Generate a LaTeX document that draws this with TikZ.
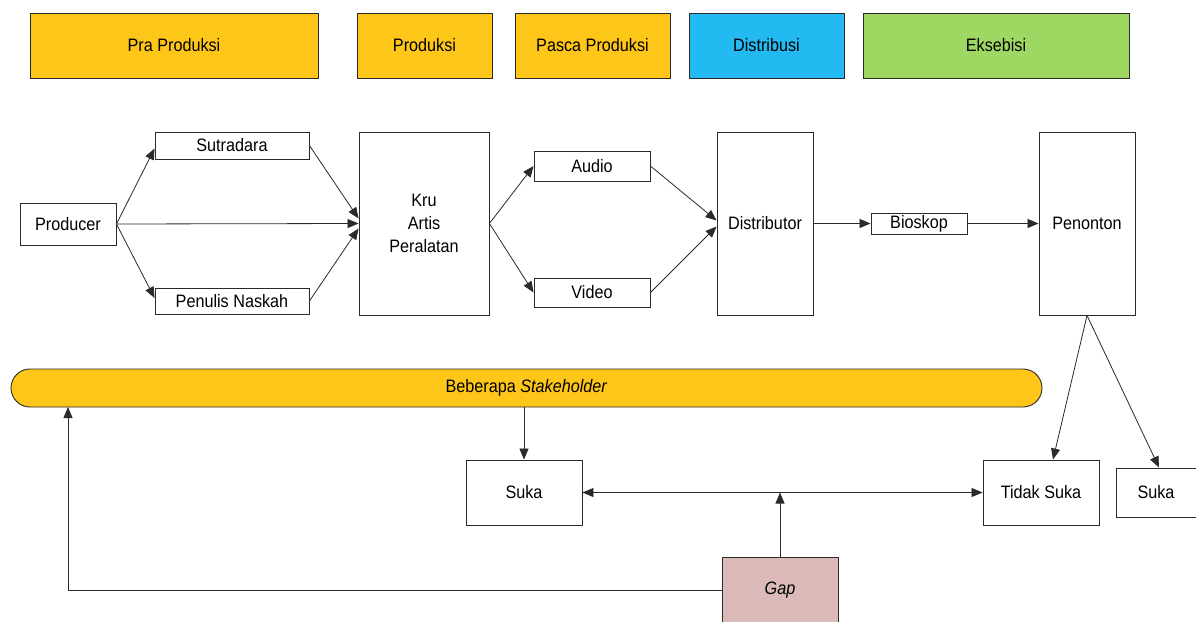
\documentclass[tikz,border=0pt]{standalone}
\usepackage{fontspec}
\setmainfont{Liberation Sans}[FakeStretch=0.9]
\usetikzlibrary{arrows.meta}
\definecolor{ylw}{HTML}{FFC61A}
\definecolor{blu}{HTML}{22BAF0}
\definecolor{grn}{HTML}{9ED762}
\definecolor{gapc}{HTML}{DDBABA}
\definecolor{ln}{HTML}{2A2A2A}
\tikzset{
  box/.style={draw=ln, line width=0.9pt, rectangle, inner sep=0pt, align=center,
    font=\fontsize{18}{23}\selectfont, text=black},
  phase/.style={box, minimum height=65pt},
  conn/.style={draw=ln, line width=0.8pt, -{Triangle[length=11pt,width=9pt]}},
  dconn/.style={draw=ln, line width=0.8pt, {Triangle[length=11pt,width=9pt]}-{Triangle[length=11pt,width=9pt]}},
  plain/.style={draw=ln, line width=0.8pt}
}
\begin{document}
\begin{tikzpicture}[x=1pt,y=-1pt]
\useasboundingbox[fill=white] (0,0) rectangle (1196,621);
% phases
\node[phase, fill=ylw, minimum width=288pt] (pra) at (174,45.5) {Pra Produksi};
\node[phase, fill=ylw, minimum width=135pt] (prod) at (424.5,45.5) {Produksi};
\node[phase, fill=ylw, minimum width=155pt] (pasca) at (592.5,45.5) {Pasca Produksi};
\node[phase, fill=blu, minimum width=155pt] (distr) at (766.5,45.5) {Distribusi};
\node[phase, fill=grn, minimum width=266pt] (eks) at (996,45.5) {Eksebisi};
% main flow
\node[box, fill=white, minimum width=96pt, minimum height=42pt] (producer) at (68,224) {Producer};
\node[box, fill=white, minimum width=154pt, minimum height=27pt] (sutradara) at (232,145.5) {Sutradara};
\node[box, fill=white, minimum width=154pt, minimum height=26pt] (penulis) at (232,301) {Penulis Naskah};
\node[box, fill=white, minimum width=130pt, minimum height=183pt] (kru) at (424,223.5) {Kru\\Artis\\Peralatan};
\node[box, fill=white, minimum width=116pt, minimum height=30pt] (audio) at (592,166) {Audio};
\node[box, fill=white, minimum width=116pt, minimum height=29pt] (video) at (592,292.5) {Video};
\node[box, fill=white, minimum width=96pt, minimum height=183pt] (distributor) at (765,223.5) {Distributor};
\node[box, fill=white, minimum width=96pt, minimum height=21pt] (bioskop) at (919,223.5) {Bioskop};
\node[box, fill=white, minimum width=96pt, minimum height=183pt] (penonton) at (1087,223.5) {Penonton};
% lower part
\node[box, fill=ylw, rounded corners=19pt, minimum width=1031pt, minimum height=38pt] (stake) at (526.5,388) {Beberapa \textit{Stakeholder}};
\node[box, fill=white, minimum width=116pt, minimum height=65pt] (suka1) at (524,492.5) {Suka};
\node[box, fill=white, minimum width=116pt, minimum height=65pt] (tidak) at (1041,492.5) {Tidak Suka};
\node[box, fill=white, minimum width=80pt, minimum height=49pt] (suka2) at (1156,492.5) {Suka};
\node[box, fill=gapc, minimum width=116pt, minimum height=66pt] (gap) at (780,590) {\textit{Gap}};
\coordinate (fb) at (68,407);
% connectors
\draw[conn] (producer.east) -- ([yshift=-3pt]sutradara.west);
\draw[conn] (producer.east) -- ([yshift=3pt]penulis.west);
\draw[conn] (producer.east) -- (kru.west);
\draw[conn] (sutradara.east) -- ([yshift=5pt]kru.west);
\draw[conn] (penulis.east) -- ([yshift=-5pt]kru.west);
\draw[conn] (kru.east) -- (audio.west);
\draw[conn] (kru.east) -- (video.west);
\draw[conn] (audio.east) -- ([yshift=3pt]distributor.west);
\draw[conn] (video.east) -- ([yshift=-3pt]distributor.west);
\draw[conn] (distributor.east) -- (bioskop.west);
\draw[conn] (bioskop.east) -- (penonton.west);
\draw[conn] (penonton.south) -- ([xshift=12pt]tidak.north);
\draw[conn] (penonton.south) -- ([xshift=3pt]suka2.north);
\draw[conn] (stake.south -| suka1.north) -- (suka1.north);
\draw[dconn] (suka1.east) -- (tidak.west);
\draw[conn] (gap.north) -- (gap.north |- suka1.east);
\draw[conn] (gap.west) -| (fb);
\end{tikzpicture}
\end{document}
